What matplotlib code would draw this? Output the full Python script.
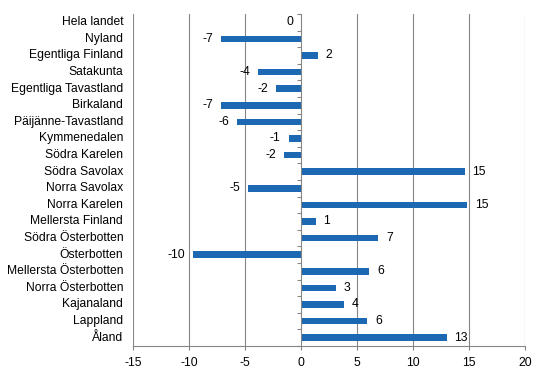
import matplotlib.pyplot as plt

regions = [
    "Hela landet", "Nyland", "Egentliga Finland", "Satakunta",
    "Egentliga Tavastland", "Birkaland", "Päijänne-Tavastland",
    "Kymmenedalen", "Södra Karelen", "Södra Savolax", "Norra Savolax",
    "Norra Karelen", "Mellersta Finland", "Södra Österbotten",
    "Österbotten", "Mellersta Österbotten", "Norra Österbotten",
    "Kajanaland", "Lappland", "Åland",
]
values = [
    0.0, -7.1, 1.5, -3.8, -2.2, -7.1, -5.7, -1.1, -1.5, 14.6, -4.7,
    14.8, 1.3, 6.9, -9.6, 6.1, 3.1, 3.8, 5.9, 13.0,
]
xticks = [-15, -10, -5, 0, 5, 10, 15, 20]

plt.rcParams['font.family'] = ['Liberation Sans', 'DejaVu Sans']
grey = '#868686'
bar_color = '#1c68b2'
fs = 8.7

fig = plt.figure(figsize=(5.46, 3.76), dpi=100)
ax = fig.add_axes([0.2436, 0.0798, 0.7179, 0.883])

pos = list(range(len(regions)))
ax.barh(pos, values, height=0.39, color=bar_color, zorder=3)

ax.set_xlim(-15, 20)
ax.set_ylim(len(regions) - 0.5, -0.5)
ax.set_xticks(xticks)
ax.set_xticklabels([str(t) for t in xticks], fontsize=fs)
ax.tick_params(axis='x', length=3, color=grey, width=0.8, pad=5)

# vertical grid lines
for t in xticks:
    if t != 0:
        ax.axvline(t, color=grey, linewidth=0.8, zorder=1)

for s in ['top', 'right']:
    ax.spines[s].set_visible(False)
ax.spines['bottom'].set_color(grey)
ax.spines['bottom'].set_linewidth(0.8)
ax.spines['left'].set_position(('data', 0))
ax.spines['left'].set_color(grey)
ax.spines['left'].set_linewidth(0.8)
ax.spines['left'].set_zorder(4)

# ticks on the zero axis at category boundaries
ax.set_yticks([p - 0.5 for p in pos] + [len(regions) - 0.5])
ax.set_yticklabels([])
ax.tick_params(axis='y', length=3, color=grey, width=0.8)

# category labels at the far left
for p, name in zip(pos, regions):
    ax.text(-0.025, p, name, transform=ax.get_yaxis_transform(),
            ha='right', va='center', fontsize=fs)

# value labels
for p, v in zip(pos, values):
    label = str(int(round(v)))
    if v > 0:
        ax.annotate(label, (v, p), xytext=(8, 0), textcoords='offset pixels',
                    ha='left', va='center', fontsize=fs)
    else:
        ax.annotate(label, (v, p), xytext=(-8, 0), textcoords='offset pixels',
                    ha='right', va='center', fontsize=fs)

fig.savefig('out.png', dpi=100)
